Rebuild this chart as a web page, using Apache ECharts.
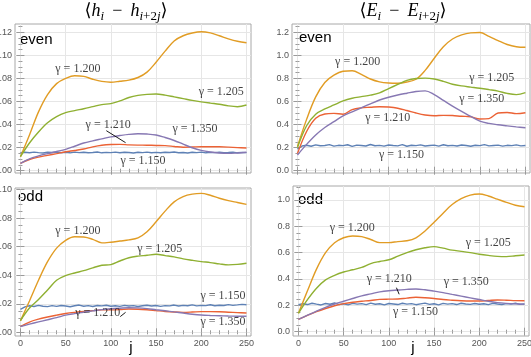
<!DOCTYPE html>
<html>
<head>
<meta charset="utf-8">
<script src="https://cdn.jsdelivr.net/npm/echarts@6/dist/echarts.min.js"></script>
<style>
  html, body { margin: 0; padding: 0; background: #fff; }
  #chart { width: 531px; height: 357px; }
</style>
</head>
<body>
<div id="chart"></div>
<script>
// j positions (every 10 for the smooth curves, every 5 for the noisy gamma = 1.150 trace)
const J = [0,10,20,30,40,50,60,70,80,90,100,110,120,130,140,150,160,170,180,190,200,210,220,230,240,250];
const J5 = [0,5,10,15,20,25,30,35,40,45,50,55,60,65,70,75,80,85,90,95,100,105,110,115,120,125,
  130,135,140,145,150,155,160,165,170,175,180,185,190,195,200,205,210,215,220,225,230,235,240,245,250];

const X_TICKS = [0, 50, 100, 150, 200, 250];
const H_EVEN_TICKS = [0, 0.02, 0.04, 0.06, 0.08, 0.10, 0.12];
const E_EVEN_TICKS = [0, 0.2, 0.4, 0.6, 0.8, 1.0, 1.2];
const H_ODD_TICKS = [0, 0.02, 0.04, 0.06, 0.08, 0.10];
const E_ODD_TICKS = [0, 0.2, 0.4, 0.6, 0.8, 1.0];

// <h_i - h_{i+2j}>, even
const hEven1150 = [0.0155,0.0160,0.0156,0.0161,0.0157,0.0154,0.0160,0.0158,0.0162,0.0156,0.0159,0.0155,0.0161,0.0157,0.0160,0.0156,0.0158,
  0.0162,0.0155,0.0159,0.0157,0.0161,0.0156,0.0160,0.0158,0.0154,0.0160,0.0157,0.0161,0.0156,0.0159,0.0155,0.0160,0.0158,0.0162,0.0156,
  0.0158,0.0154,0.0160,0.0157,0.0161,0.0155,0.0159,0.0157,0.0160,0.0156,0.0158,0.0161,0.0155,0.0158,0.0157];
const hEven1200 = [0.0121,0.031,0.051,0.066,0.0755,0.080,0.0823,0.0818,0.0793,0.0774,0.0767,0.0775,0.0785,0.0808,0.0855,0.094,
  0.1037,0.1125,0.117,0.1194,0.1205,0.1195,0.117,0.1143,0.1122,0.111];
const hEven1205 = [0.0121,0.024,0.0335,0.0415,0.0468,0.0503,0.0521,0.0537,0.0555,0.0573,0.0582,0.0605,0.0635,0.0653,0.0662,0.0665,
  0.0655,0.064,0.0625,0.061,0.0597,0.0586,0.0576,0.0562,0.0555,0.057];
const hEven1210 = [0.0064,0.0097,0.0118,0.0133,0.0148,0.0164,0.0175,0.0188,0.0207,0.0221,0.0227,0.0228,0.0224,0.0222,0.0221,0.0219,
  0.0217,0.021,0.0203,0.0205,0.0208,0.0208,0.0207,0.0204,0.0200,0.0197];
const hEven1350 = [0.0064,0.0103,0.0128,0.0148,0.0166,0.0185,0.0212,0.024,0.0259,0.0276,0.0293,0.0305,0.0315,0.032,0.0318,0.031,
  0.0288,0.0262,0.023,0.0199,0.0176,0.0162,0.0153,0.015,0.0154,0.016];

// <E_i - E_{i+2j}>, even
const eEven1150 = [0.190,0.214,0.221,0.212,0.224,0.216,0.219,0.226,0.213,0.220,0.217,0.225,0.211,0.222,0.218,0.214,0.227,0.216,0.220,
  0.213,0.223,0.218,0.215,0.226,0.212,0.221,0.217,0.224,0.214,0.219,0.222,0.213,0.225,0.216,0.220,0.214,0.223,0.218,0.212,0.221,0.217,
  0.226,0.215,0.219,0.222,0.213,0.220,0.217,0.224,0.215,0.218];
const eEven1200 = [0.21,0.445,0.64,0.765,0.828,0.862,0.866,0.836,0.795,0.77,0.76,0.758,0.769,0.793,0.87,0.975,1.075,1.142,1.177,
  1.195,1.198,1.165,1.128,1.094,1.075,1.07];
const eEven1205 = [0.2,0.39,0.49,0.535,0.57,0.605,0.628,0.642,0.655,0.675,0.712,0.748,0.783,0.8,0.803,0.795,0.775,0.75,0.735,0.725,
  0.715,0.703,0.69,0.67,0.66,0.677];
const eEven1210 = [0.15,0.34,0.455,0.492,0.497,0.49,0.53,0.545,0.55,0.555,0.552,0.542,0.522,0.5,0.483,0.476,0.48,0.478,0.472,0.468,
  0.448,0.452,0.5,0.505,0.495,0.503];
const eEven1350 = [0.136,0.228,0.31,0.375,0.425,0.475,0.51,0.545,0.58,0.613,0.637,0.656,0.672,0.687,0.692,0.66,0.61,0.56,0.515,0.47,
  0.43,0.41,0.398,0.389,0.38,0.372];

// <h_i - h_{i+2j}>, odd
const hOdd1150 = [0.0160,0.0178,0.0186,0.0181,0.0189,0.0183,0.0180,0.0187,0.0182,0.0188,0.0184,0.0179,0.0186,0.0191,0.0183,0.0187,0.0181,
  0.0188,0.0185,0.0190,0.0183,0.0186,0.0182,0.0189,0.0184,0.0187,0.0181,0.0186,0.0190,0.0184,0.0188,0.0182,0.0187,0.0185,0.0191,0.0184,
  0.0189,0.0186,0.0192,0.0185,0.0189,0.0187,0.0193,0.0186,0.0190,0.0188,0.0194,0.0189,0.0192,0.0196,0.0193];
const hOdd1200 = [0.008,0.022,0.0365,0.0495,0.059,0.0645,0.067,0.0668,0.0652,0.0627,0.0632,0.064,0.0648,0.0662,0.0705,0.0775,0.085,
  0.0915,0.0952,0.0969,0.0974,0.0961,0.094,0.0923,0.091,0.0897];
const hOdd1205 = [0.0082,0.017,0.023,0.0297,0.0365,0.0398,0.0416,0.0432,0.0452,0.047,0.0475,0.05,0.0523,0.0534,0.054,0.0547,0.0538,
  0.0529,0.0515,0.0505,0.0496,0.0489,0.048,0.0473,0.0476,0.0484];
const hOdd1210 = [0.004,0.0072,0.0092,0.0107,0.012,0.0132,0.014,0.0146,0.0152,0.0157,0.0157,0.0159,0.0163,0.0162,0.0158,0.0152,0.0146,
  0.0142,0.014,0.0142,0.0145,0.0145,0.0144,0.0141,0.0138,0.0135];
const hOdd1350 = [0.004,0.0057,0.0073,0.0088,0.0103,0.012,0.0131,0.0141,0.015,0.0159,0.0165,0.0169,0.0172,0.0171,0.0166,0.0158,0.0151,
  0.0143,0.0135,0.0127,0.0121,0.0118,0.0116,0.0114,0.0113,0.0112];

// <E_i - E_{i+2j}>, odd
const eOdd1150 = [0.205,0.212,0.206,0.216,0.209,0.203,0.214,0.208,0.218,0.206,0.211,0.204,0.215,0.209,0.213,0.205,0.217,0.208,0.212,
  0.204,0.214,0.210,0.206,0.216,0.209,0.213,0.205,0.211,0.217,0.207,0.212,0.204,0.215,0.209,0.213,0.206,0.216,0.210,0.207,0.214,0.208,
  0.212,0.205,0.215,0.210,0.206,0.213,0.209,0.216,0.207,0.211];
const eOdd1200 = [0.14,0.31,0.475,0.6,0.675,0.713,0.726,0.722,0.7,0.676,0.676,0.684,0.69,0.713,0.765,0.83,0.9,0.965,1.01,1.037,1.045,
  1.03,1.006,0.982,0.96,0.949];
const eOdd1205 = [0.139,0.243,0.33,0.393,0.428,0.453,0.47,0.488,0.517,0.533,0.546,0.573,0.6,0.622,0.637,0.646,0.634,0.619,0.61,0.6,
  0.588,0.579,0.572,0.57,0.576,0.582];
const eOdd1210 = [0.094,0.124,0.152,0.176,0.197,0.213,0.224,0.231,0.237,0.245,0.247,0.248,0.255,0.261,0.258,0.252,0.244,0.239,0.235,
  0.233,0.233,0.237,0.241,0.239,0.236,0.235];
const eOdd1350 = [0.094,0.125,0.156,0.185,0.21,0.231,0.252,0.272,0.287,0.302,0.311,0.316,0.321,0.324,0.318,0.308,0.297,0.283,0.27,
  0.257,0.244,0.231,0.221,0.215,0.211,0.208];

// curve labels, anchored in data coordinates [j, value, text]
const hEvenNotes = [[63.5,0.0882,'γ = 1.200'],[222,0.068,'γ = 1.205'],[97,0.0396,'γ = 1.210'],[193,0.0359,'γ = 1.350'],[135.5,0.0087,'γ = 1.150']];
const eEvenNotes = [[66,0.946,'γ = 1.200'],[213,0.801,'γ = 1.205'],[202,0.619,'γ = 1.350'],[99,0.454,'γ = 1.210'],[114,0.136,'γ = 1.150']];
const hOddNotes = [[63.5,0.0712,'γ = 1.200'],[154,0.0584,'γ = 1.205'],[224,0.0257,'γ = 1.150'],[85.6,0.0133,'γ = 1.210'],[224,0.0075,'γ = 1.350']];
const eOddNotes = [[59.6,0.785,'γ = 1.200'],[210,0.671,'γ = 1.205'],[100.4,0.4,'γ = 1.210'],[185.6,0.375,'γ = 1.350'],[129.4,0.147,'γ = 1.150']];

// short pointer lines from a label to its curve
const hEvenLeader = [[95,0.0347],[116.3,0.0243]];
const hOddLeader = [[110.4,0.011],[116.3,0.014]];
const eOddLeader = [[108.4,0.334],[111.4,0.284]];

// Mathematica-like palette
const COLORS = { c1150: '#5E81B5', c1200: '#E19C24', c1205: '#8FB032', c1210: '#EB6235', c1350: '#8778B3' };
const FRAME = '#a8a8a8';
const GRIDLINE = '#e6e6e6';
const TICK = '#9a9a9a';
const LABEL = '#555';
const SERIF = '"Liberation Serif", "DejaVu Serif", serif';
const SANS = '"Liberation Sans", Arial, sans-serif';

const PANELS = [
  { box: [15, 24, 236, 149], y: [-0.002, 0.1272], ySplit: 6, yTicks: H_EVEN_TICKS, digits: 2, xLabels: false,
    lines: [hEven1150, hEven1200, hEven1205, hEven1210, hEven1350], notes: hEvenNotes, leader: hEvenLeader },
  { box: [292, 24, 238, 149], y: [-0.02, 1.272], ySplit: 6, yTicks: E_EVEN_TICKS, digits: 1, xLabels: false,
    lines: [eEven1150, eEven1200, eEven1205, eEven1210, eEven1350], notes: eEvenNotes, leader: null },
  { box: [15, 188, 236, 148], y: [-0.0026, 0.1012], ySplit: 5, yTicks: H_ODD_TICKS, digits: 2, xLabels: true,
    lines: [hOdd1150, hOdd1200, hOdd1205, hOdd1210, hOdd1350], notes: hOddNotes, leader: hOddLeader },
  { box: [293, 186, 236, 150], y: [-0.0327, 1.106], ySplit: 6, yTicks: E_ODD_TICKS, digits: 1, xLabels: true,
    lines: [eOdd1150, eOdd1200, eOdd1205, eOdd1210, eOdd1350], notes: eOddNotes, leader: eOddLeader },
];

const chart = echarts.init(document.getElementById('chart'));
const grids = [], xAxes = [], yAxes = [], series = [];
const lineColors = [COLORS.c1150, COLORS.c1200, COLORS.c1205, COLORS.c1210, COLORS.c1350];

PANELS.forEach((p, i) => {
  grids.push({ left: p.box[0], top: p.box[1], width: p.box[2], height: p.box[3],
    outerBoundsMode: 'none', containLabel: false,
    show: true, borderColor: FRAME, borderWidth: 1, backgroundColor: 'transparent' });

  const xCommon = { type: 'value', gridIndex: i, min: -6, max: 255, splitNumber: 5,
    axisLine: { show: false },
    axisTick: { inside: true, length: 4, customValues: X_TICKS, lineStyle: { color: TICK } },
    minorTick: { show: true, splitNumber: 5, length: 2, lineStyle: { color: TICK } } };
  xAxes.push({ ...xCommon, position: 'bottom',
    axisLabel: p.xLabels
      ? { show: true, customValues: X_TICKS, color: LABEL, fontSize: 9, fontFamily: SANS, margin: 3 }
      : { show: false },
    splitLine: { show: true, lineStyle: { color: GRIDLINE, width: 1 } } });
  xAxes.push({ ...xCommon, position: 'top', axisLabel: { show: false }, splitLine: { show: false } });

  const yCommon = { type: 'value', gridIndex: i, min: p.y[0], max: p.y[1], splitNumber: p.ySplit,
    axisLine: { show: false },
    axisTick: { inside: true, length: 4, customValues: p.yTicks, lineStyle: { color: TICK } },
    minorTick: { show: true, splitNumber: 4, length: 2, lineStyle: { color: TICK } } };
  yAxes.push({ ...yCommon, position: 'left',
    axisLabel: { show: true, customValues: p.yTicks, color: LABEL, fontSize: 9, fontFamily: SANS, margin: 3,
      formatter: v => v.toFixed(p.digits) },
    splitLine: { show: true, lineStyle: { color: GRIDLINE, width: 1 } } });
  yAxes.push({ ...yCommon, position: 'right', axisLabel: { show: false }, splitLine: { show: false } });

  p.lines.forEach((vals, k) => {
    const xs = k === 0 ? J5 : J;
    series.push({ type: 'line', xAxisIndex: 2 * i, yAxisIndex: 2 * i,
      data: xs.map((j, n) => [j, vals[n]]),
      showSymbol: false, symbol: 'none', smooth: k === 0 ? false : 0.35,
      lineStyle: { color: lineColors[k], width: 1.4 }, silent: true, z: 2 + k });
  });

  if (p.leader) {
    series.push({ type: 'line', xAxisIndex: 2 * i, yAxisIndex: 2 * i, data: p.leader,
      symbol: 'none', lineStyle: { color: '#000', width: 0.9 }, silent: true, z: 10 });
  }

  series.push({ type: 'scatter', xAxisIndex: 2 * i, yAxisIndex: 2 * i, symbolSize: 1,
    itemStyle: { color: 'transparent' }, silent: true, z: 12,
    data: p.notes.map(n => ({ value: [n[0], n[1]], name: n[2] })),
    label: { show: true, position: 'inside', formatter: '{b}', color: '#111',
      fontFamily: SERIF, fontSize: 12 } });
});

const titleRich = {
  m: { fontFamily: SERIF, fontSize: 18, lineHeight: 24, color: '#111' },
  i: { fontFamily: SERIF, fontSize: 18, lineHeight: 24, fontStyle: 'italic', color: '#111' },
  s: { fontFamily: SERIF, fontSize: 13, lineHeight: 12, fontStyle: 'italic', verticalAlign: 'bottom', color: '#111' },
  sr: { fontFamily: SERIF, fontSize: 13, lineHeight: 12, verticalAlign: 'bottom', color: '#111' },
};

function titleText(x, sym) {
  return { type: 'text', x: x, y: -1, silent: true,
    style: { text: '{m|⟨}{i|' + sym + '}{s|i}{m| \u2009−\u2009 }{i|' + sym + '}{s|i}{sr|+2}{s|j}{m|⟩}',
      rich: titleRich, align: 'center', verticalAlign: 'top' } };
}

function plainText(x, y, text, size, align) {
  return { type: 'text', x: x, y: y, silent: true,
    style: { text: text, fontFamily: SANS, fontSize: size, fill: '#000', align: align || 'left', verticalAlign: 'top' } };
}

chart.setOption({
  animation: false,
  backgroundColor: '#fff',
  grid: grids,
  xAxis: xAxes,
  yAxis: yAxes,
  series: series,
  graphic: [
    titleText(126, 'h'),
    titleText(403, 'E'),
    plainText(20, 32, 'even', 15),
    plainText(299, 30, 'even', 15),
    plainText(18, 189, 'odd', 15),
    plainText(298, 192, 'odd', 15),
    plainText(131, 340, 'j', 15, 'center'),
    plainText(413, 340, 'j', 15, 'center'),
  ],
});
</script>
</body>
</html>
